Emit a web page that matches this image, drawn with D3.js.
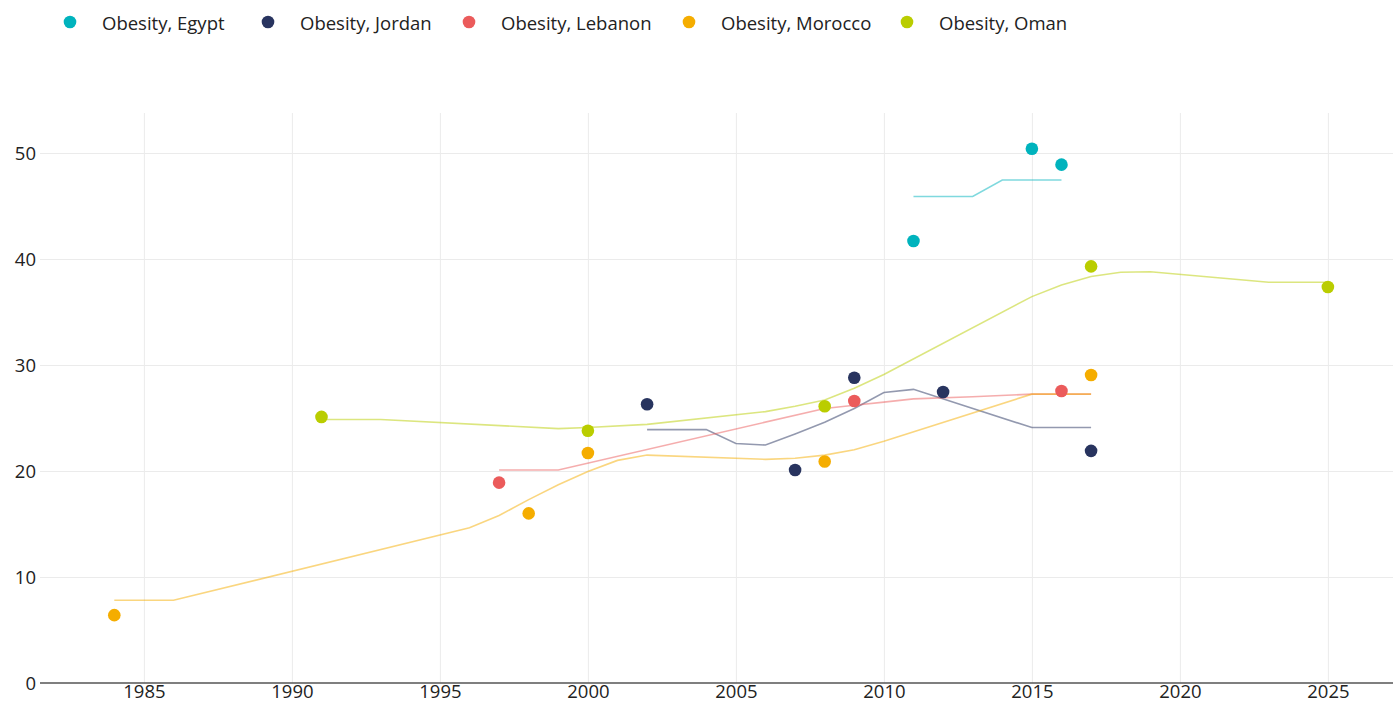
<html>
<head>
<script src="https://d3js.org/d3.v7.min.js"></script>
<style>
body { margin: 0; background: #fff; font-family: "Open Sans", "Lato", "Noto Sans", sans-serif; }
.tick text { font-size: 18.5px; fill: #222; }
.legend text { font-size: 18.5px; fill: #222; }
</style>
</head>
<body>
<svg width="1393" height="706"></svg>
<script>
// series names and colours
var countries = ["Egypt", "Jordan", "Lebanon", "Morocco", "Oman"];
var colors = ["#00b3bd", "#28345f", "#eb5b5b", "#f5ad00", "#bacd00"];

// survey points [year, value]
var egyptPts   = [[2011, 41.7], [2015, 50.4], [2016, 48.9]];
var jordanPts  = [[2002, 26.3], [2007, 20.1], [2009, 28.8], [2012, 27.45], [2017, 21.9]];
var lebanonPts = [[1997, 18.9], [2009, 26.6], [2016, 27.55]];
var moroccoPts = [[1984, 6.4], [1998, 16.0], [2000, 21.7], [2008, 20.9], [2017, 29.05]];
var omanPts    = [[1991, 25.1], [2000, 23.8], [2008, 26.1], [2017, 39.3], [2025, 37.35]];

// modelled trend lines [year, value]
var egyptLine   = [[2011, 45.9], [2013, 45.9], [2014, 47.45], [2016, 47.45]];
var jordanLine  = [[2002, 23.9], [2004, 23.9], [2005, 22.6], [2006, 22.45], [2007, 23.5], [2008, 24.6],
                   [2009, 25.9], [2010, 27.4], [2011, 27.7], [2015, 24.1], [2017, 24.1]];
var lebanonLine = [[1997, 20.1], [1999, 20.1], [2008, 25.9], [2009, 26.2], [2010, 26.5], [2011, 26.8],
                   [2013, 27.0], [2015, 27.25], [2017, 27.25]];
var moroccoLine = [[1984, 7.8], [1986, 7.8], [1996, 14.65], [1997, 15.8], [1998, 17.3], [1999, 18.7],
                   [2000, 19.95], [2001, 21.0], [2002, 21.5], [2006, 21.1], [2007, 21.2], [2008, 21.5],
                   [2009, 22.0], [2010, 22.8], [2015, 27.25], [2017, 27.25]];
var omanLine    = [[1991, 24.85], [1993, 24.85], [1999, 24.0], [2000, 24.1], [2002, 24.4], [2006, 25.6],
                   [2007, 26.1], [2008, 26.7], [2009, 27.8], [2010, 29.1], [2015, 36.45], [2016, 37.55],
                   [2017, 38.35], [2018, 38.75], [2019, 38.8], [2023, 37.8], [2025, 37.8]];

var xTicks = [1985, 1990, 1995, 2000, 2005, 2010, 2015, 2020, 2025];
var yTicks = [0, 10, 20, 30, 40, 50];

var allPts = [egyptPts, jordanPts, lebanonPts, moroccoPts, omanPts];
var allLines = [egyptLine, jordanLine, lebanonLine, moroccoLine, omanLine];

var svg = d3.select("svg");
var pLeft = 40, pRight = 1393, pTop = 113, pBottom = 683;

var x = d3.scaleLinear().domain([1981.49, 2027.2]).range([pLeft, pRight]);
var y = d3.scaleLinear().domain([0, 53.77]).range([pBottom, pTop]);

// grid
svg.append("g").attr("transform", "translate(0," + pBottom + ")")
  .call(d3.axisBottom(x).tickValues(xTicks).tickSize(-(pBottom - pTop)).tickFormat(""))
  .call(function(g) { g.select(".domain").remove(); g.selectAll("line").attr("stroke", "#ebebeb"); });
svg.append("g").attr("transform", "translate(" + pLeft + ",0)")
  .call(d3.axisLeft(y).tickValues(yTicks.slice(1)).tickSize(-(pRight - pLeft)).tickFormat(""))
  .call(function(g) { g.select(".domain").remove(); g.selectAll("line").attr("stroke", "#ebebeb"); });

// axes labels
svg.append("g").attr("transform", "translate(0," + pBottom + ")")
  .call(d3.axisBottom(x).tickValues(xTicks).tickSize(0).tickPadding(2).tickFormat(d3.format("d")))
  .call(function(g) { g.select(".domain").remove(); });
svg.append("g").attr("transform", "translate(" + pLeft + ",0)")
  .call(d3.axisLeft(y).tickValues(yTicks).tickSize(0).tickPadding(4))
  .call(function(g) { g.select(".domain").remove(); g.selectAll("text").attr("dy", "0.36em"); });
svg.selectAll("g").attr("font-family", null).attr("font-size", null);

svg.append("line").attr("x1", pLeft).attr("x2", pRight).attr("y1", pBottom).attr("y2", pBottom)
  .attr("stroke", "#555").attr("stroke-width", 1.5);

var line = d3.line().x(function(d) { return x(d[0]); }).y(function(d) { return y(d[1]); });

allLines.forEach(function(l, i) {
  svg.append("path").datum(l).attr("d", line).attr("fill", "none")
    .attr("stroke", colors[i]).attr("stroke-opacity", 0.5).attr("stroke-width", 1.6);
});

allPts.forEach(function(p, i) {
  svg.append("g").selectAll("circle").data(p).enter().append("circle")
    .attr("cx", function(d) { return x(d[0]); })
    .attr("cy", function(d) { return y(d[1]); })
    .attr("r", 6.3).attr("fill", colors[i]);
});

// legend
var legX = [70, 268, 469, 689, 907];
var leg = svg.append("g").attr("class", "legend");
countries.forEach(function(c, i) {
  leg.append("circle").attr("cx", legX[i]).attr("cy", 22).attr("r", 6.3).attr("fill", colors[i]);
  leg.append("text").attr("x", legX[i] + 32).attr("y", 23.5).attr("dy", "0.35em").text("Obesity, " + c);
});
</script>
</body>
</html>
